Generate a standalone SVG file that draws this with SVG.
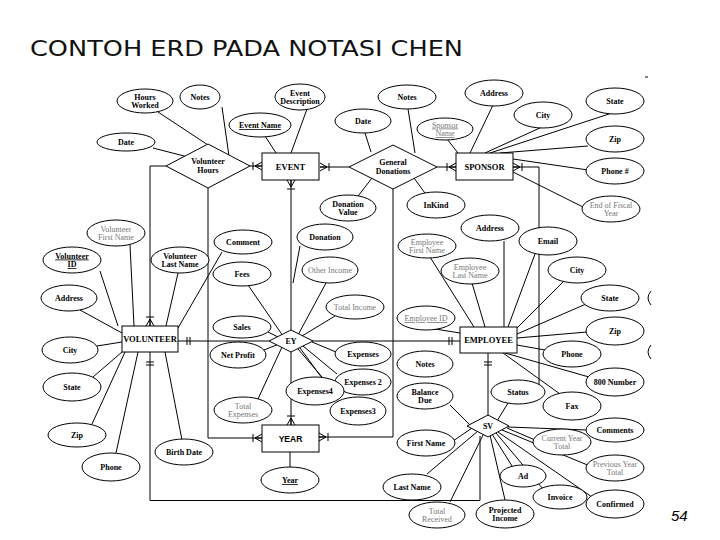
<svg xmlns="http://www.w3.org/2000/svg" xmlns:xlink="http://www.w3.org/1999/xlink" width="720" height="540" viewBox="0 0 720 540">
<defs>
<style>
ellipse,rect,polygon{fill:#fff;stroke:#000;stroke-width:1}
.c path,.c line{stroke:#000;stroke-width:1;fill:none}
.m{stroke:#000;stroke-width:1;fill:none}
text{font-family:"Liberation Serif","Times New Roman",serif;font-size:8px;font-weight:bold;text-anchor:middle;fill:#000}
text.g{fill:#777;font-weight:normal}
text.u{text-decoration:underline}
text.en{font-size:8.5px}
text.title{font-family:"DejaVu Sans","Liberation Sans",sans-serif;font-size:22px;font-weight:normal;text-anchor:start;fill:#111}
text.pg{font-family:"Liberation Sans",sans-serif;font-size:15px;font-weight:normal;font-style:italic;text-anchor:start}
</style>
<path id="cf" class="m" d="M-7,0 L0,-4 M-7,0 L0,4 M-7,0 L0,0 M-9,-4 V4"/>
</defs>
<rect x="0" y="0" width="720" height="540" style="fill:#fff;stroke:none"/>
<text class="title" x="30" y="56" textLength="433" lengthAdjust="spacingAndGlyphs">CONTOH ERD PADA NOTASI CHEN</text>
<text class="pg" x="671" y="521">54</text>
<path class="m" d="M645,77 H648 M651,291 Q645,298 651,305 M651,345 Q645,352 651,359"/>

<g id="connectors" class="c">
<!-- Volunteer Hours -->
<line x1="158" y1="112" x2="208" y2="145"/>
<line x1="222" y1="107" x2="229" y2="156"/>
<line x1="153" y1="148" x2="188" y2="157"/>
<line x1="250" y1="166" x2="262" y2="166"/>
<path d="M166,166 H150 V326"/>
<path d="M208,188 V438 H262"/>
<!-- General Donations -->
<line x1="320" y1="167" x2="349" y2="167"/>
<line x1="437" y1="167" x2="456" y2="167"/>
<line x1="365" y1="133" x2="371" y2="152"/>
<line x1="408" y1="109" x2="415" y2="153"/>
<line x1="372" y1="178" x2="355" y2="200"/>
<line x1="414" y1="178" x2="430" y2="200"/>
<path d="M393,189 V437 H319"/>
<!-- EVENT -->
<line x1="265" y1="136" x2="276" y2="153"/>
<line x1="307" y1="109" x2="291" y2="153"/>
<path d="M291,180 V330"/>
<line x1="300" y1="246" x2="293" y2="283"/>
<!-- SPONSOR -->
<line x1="447" y1="139" x2="458" y2="153"/>
<line x1="493" y1="105" x2="470" y2="153"/>
<line x1="542" y1="127" x2="485" y2="153"/>
<line x1="612" y1="113" x2="490" y2="153"/>
<line x1="588" y1="146" x2="500" y2="153"/>
<line x1="513" y1="159" x2="588" y2="170"/>
<line x1="513" y1="172" x2="585" y2="208"/>
<path d="M513,167 H539 V392"/>
<!-- VOLUNTEER -->
<line x1="130" y1="245" x2="134" y2="326"/>
<line x1="100" y1="271" x2="118" y2="326"/>
<line x1="178" y1="273" x2="166" y2="326"/>
<line x1="222" y1="252" x2="178" y2="328"/>
<line x1="80" y1="310" x2="122" y2="333"/>
<line x1="97" y1="346" x2="122" y2="342"/>
<line x1="93" y1="377" x2="122" y2="352"/>
<line x1="92" y1="424" x2="125" y2="352"/>
<line x1="116" y1="453" x2="138" y2="352"/>
<line x1="182" y1="440" x2="165" y2="352"/>
<path d="M150,352 V500.5 H480 V436"/>
<line x1="178" y1="341" x2="269" y2="341"/>
<!-- EMPLOYEE -->
<line x1="430" y1="257" x2="474" y2="327"/>
<line x1="472" y1="283" x2="485" y2="327"/>
<line x1="504" y1="241" x2="504" y2="327"/>
<line x1="535" y1="254" x2="508" y2="327"/>
<line x1="563" y1="282" x2="517" y2="328"/>
<line x1="586" y1="304" x2="517" y2="334"/>
<line x1="435" y1="329" x2="460" y2="333"/>
<line x1="517" y1="338" x2="587" y2="332"/>
<line x1="517" y1="345" x2="545" y2="350"/>
<line x1="505" y1="353" x2="589" y2="377"/>
<line x1="503" y1="353" x2="560" y2="394"/>
<line x1="488" y1="353" x2="488" y2="416"/>
<line x1="313" y1="341" x2="460" y2="341"/>
<!-- EY -->
<path d="M291,352 V425"/>
<line x1="248" y1="285" x2="283" y2="336"/>
<line x1="268" y1="332" x2="278" y2="337"/>
<line x1="264" y1="350" x2="279" y2="344"/>
<line x1="258" y1="399" x2="282" y2="347"/>
<line x1="326" y1="283" x2="298" y2="335"/>
<line x1="335" y1="316" x2="302" y2="336"/>
<line x1="336" y1="352" x2="312" y2="342"/>
<line x1="337" y1="374" x2="303" y2="346"/>
<line x1="322" y1="378" x2="300" y2="348"/>
<line x1="340" y1="398" x2="298" y2="349"/>
<!-- SV -->
<line x1="450" y1="405" x2="470" y2="425"/>
<line x1="508" y1="403" x2="497" y2="421"/>
<line x1="508" y1="427" x2="587" y2="430"/>
<line x1="507" y1="428" x2="535" y2="440"/>
<line x1="502" y1="430" x2="590" y2="466"/>
<line x1="498" y1="432" x2="592" y2="497"/>
<line x1="496" y1="433" x2="543" y2="489"/>
<line x1="492" y1="434" x2="512" y2="466"/>
<line x1="490" y1="435" x2="505" y2="500"/>
<line x1="484" y1="433" x2="450" y2="502"/>
<line x1="472" y1="428" x2="453" y2="441"/>
<line x1="478" y1="431" x2="427" y2="474"/>
<!-- YEAR -->
<line x1="290" y1="452" x2="290" y2="467"/>
<!-- cardinality markers -->
<use xlink:href="#cf" transform="translate(262,166)"/>
<use xlink:href="#cf" transform="translate(320,167) rotate(180)"/>
<use xlink:href="#cf" transform="translate(291,180) rotate(-90)"/>
<use xlink:href="#cf" transform="translate(456,167)"/>
<use xlink:href="#cf" transform="translate(513,167) rotate(180)"/>
<use xlink:href="#cf" transform="translate(150,326) rotate(90)"/>
<use xlink:href="#cf" transform="translate(262,438)"/>
<use xlink:href="#cf" transform="translate(319,437) rotate(180)"/>
<use xlink:href="#cf" transform="translate(291,425) rotate(90)"/>
<path d="M187,337 V345 M190,337 V345 M449,337 V345 M452,337 V345 M146,362 H154 M146,365 H154 M484,362 H492 M484,365 H492"/>
</g>

<g id="e-event"><rect x="262" y="153" width="57" height="27"/><text class="en" x="290.5" y="170">EVENT</text></g>
<g id="e-sponsor"><rect x="456" y="153" width="57" height="27"/><text class="en" x="484.5" y="170">SPONSOR</text></g>
<g id="e-volunteer"><rect x="122" y="326" width="56" height="26"/><text class="en" x="150" y="342">VOLUNTEER</text></g>
<g id="e-employee"><rect x="460" y="327" width="57" height="26"/><text class="en" x="488.5" y="343">EMPLOYEE</text></g>
<g id="e-year"><rect x="262" y="425" width="57" height="27"/><text class="en" x="290.5" y="442" style="font-family:'Liberation Sans',sans-serif">YEAR</text></g>

<g id="r-volunteer-hours"><polygon points="166,166 208,144 250,166 208,188"/><text x="208" y="164">Volunteer</text><text x="208" y="173">Hours</text></g>
<g id="r-general-donations"><polygon points="349,167 393,145 437,167 393,189"/><text x="393" y="165">General</text><text x="393" y="174">Donations</text></g>
<g id="r-ey"><polygon points="269,341 291,330 313,341 291,352"/><text x="291" y="344">EY</text></g>
<g id="r-sv"><polygon points="467,426 488,415 509,426 488,437"/><text x="488" y="429">SV</text></g>

<g id="a-hours-worked"><ellipse cx="145" cy="101" rx="28" ry="12"/><text x="145" y="99.5">Hours</text><text x="145" y="108">Worked</text></g>
<g id="a-notes1"><ellipse cx="200" cy="97" rx="20" ry="12"/><text x="200" y="100">Notes</text></g>
<g id="a-event-desc"><ellipse cx="300" cy="97" rx="25" ry="13"/><text x="300" y="95.5">Event</text><text x="300" y="104">Description</text></g>
<g id="a-event-name"><ellipse cx="260" cy="125" rx="31" ry="12"/><text class="u" x="260" y="128">Event Name</text></g>
<g id="a-date2"><ellipse cx="363" cy="121" rx="28" ry="12"/><text x="363" y="124">Date</text></g>
<g id="a-notes2"><ellipse cx="407" cy="97" rx="29" ry="12"/><text x="407" y="100">Notes</text></g>
<g id="a-sponsor-name"><ellipse cx="445" cy="129" rx="28" ry="11"/><text class="g u" x="445" y="127.5">Sponsor</text><text class="g u" x="445" y="136">Name</text></g>
<g id="a-address1"><ellipse cx="494" cy="93" rx="29" ry="13"/><text x="494" y="96">Address</text></g>
<g id="a-city1"><ellipse cx="543" cy="115" rx="29" ry="13"/><text x="543" y="118">City</text></g>
<g id="a-state1"><ellipse cx="615" cy="101" rx="29" ry="13"/><text x="615" y="104">State</text></g>
<g id="a-zip1"><ellipse cx="615" cy="139" rx="29" ry="13"/><text x="615" y="142">Zip</text></g>
<g id="a-phone1"><ellipse cx="615" cy="171" rx="29" ry="13"/><text x="615" y="174">Phone #</text></g>
<g id="a-date1"><ellipse cx="126" cy="142" rx="29" ry="9"/><text x="126" y="145">Date</text></g>
<g id="a-fiscal-year"><ellipse cx="611" cy="209" rx="29" ry="13"/><text class="g" x="611" y="207.5">End of Fiscal</text><text class="g" x="611" y="216">Year</text></g>
<g id="a-donation-value"><ellipse cx="348" cy="208" rx="28" ry="13"/><text x="348" y="206.5">Donation</text><text x="348" y="215">Value</text></g>
<g id="a-inkind"><ellipse cx="436" cy="205" rx="29" ry="13"/><text x="436" y="208">InKind</text></g>
<g id="a-vol-first"><ellipse cx="116" cy="233" rx="29" ry="13"/><text class="g" x="116" y="231.5">Volunteer</text><text class="g" x="116" y="240">First Name</text></g>
<g id="a-comment"><ellipse cx="243" cy="242" rx="29" ry="12"/><text x="243" y="245">Comment</text></g>
<g id="a-donation"><ellipse cx="325" cy="237" rx="28" ry="13"/><text x="325" y="240">Donation</text></g>
<g id="a-address2"><ellipse cx="490" cy="228" rx="29" ry="13"/><text x="490" y="231">Address</text></g>
<g id="a-email"><ellipse cx="548" cy="241" rx="29" ry="14"/><text x="548" y="244">Email</text></g>
<g id="a-emp-first"><ellipse cx="427" cy="246" rx="29" ry="12"/><text class="g" x="427" y="244.5">Employee</text><text class="g" x="427" y="253">First Name</text></g>
<g id="a-vol-id"><ellipse cx="72" cy="260" rx="29" ry="13"/><text class="u" x="72" y="258.5">Volunteer</text><text class="u" x="72" y="267">ID</text></g>
<g id="a-vol-last"><ellipse cx="180" cy="260" rx="29" ry="13"/><text x="180" y="258.5">Volunteer</text><text x="180" y="267">Last Name</text></g>
<g id="a-fees"><ellipse cx="242" cy="274" rx="29" ry="12"/><text x="242" y="277">Fees</text></g>
<g id="a-other-income"><ellipse cx="330" cy="270" rx="28" ry="13"/><text class="g" x="330" y="273">Other Income</text></g>
<g id="a-emp-last"><ellipse cx="470" cy="271" rx="29" ry="13"/><text class="g" x="470" y="269.5">Employee</text><text class="g" x="470" y="278">Last Name</text></g>
<g id="a-city2"><ellipse cx="577" cy="270" rx="29" ry="13"/><text x="577" y="273">City</text></g>
<g id="a-address3"><ellipse cx="69" cy="298" rx="28" ry="13"/><text x="69" y="301">Address</text></g>
<g id="a-state2"><ellipse cx="610" cy="298" rx="29" ry="13"/><text x="610" y="301">State</text></g>
<g id="a-total-income"><ellipse cx="355" cy="307" rx="29" ry="12"/><text class="g" x="355" y="310">Total Income</text></g>
<g id="a-emp-id"><ellipse cx="426" cy="318" rx="29" ry="12"/><text class="g u" x="426" y="321">Employee ID</text></g>
<g id="a-sales"><ellipse cx="242" cy="327" rx="29" ry="11"/><text x="242" y="330">Sales</text></g>
<g id="a-zip2"><ellipse cx="615" cy="331" rx="29" ry="14"/><text x="615" y="334">Zip</text></g>
<g id="a-city3"><ellipse cx="70" cy="350" rx="28" ry="13"/><text x="70" y="353">City</text></g>
<g id="a-net-profit"><ellipse cx="238" cy="355" rx="28" ry="13"/><text x="238" y="358">Net Profit</text></g>
<g id="a-expenses"><ellipse cx="363" cy="354" rx="28" ry="12"/><text x="363" y="357">Expenses</text></g>
<g id="a-phone2"><ellipse cx="572" cy="354" rx="29" ry="13"/><text x="572" y="357">Phone</text></g>
<g id="a-notes3"><ellipse cx="425" cy="364" rx="28" ry="13"/><text x="425" y="367">Notes</text></g>
<g id="a-state3"><ellipse cx="72" cy="387" rx="29" ry="14"/><text x="72" y="390">State</text></g>
<g id="a-expenses2"><ellipse cx="363" cy="382" rx="28" ry="13"/><text x="363" y="385">Expenses 2</text></g>
<g id="a-expenses4"><ellipse cx="315" cy="391" rx="29" ry="14"/><text x="315" y="394">Expenses4</text></g>
<g id="a-balance-due"><ellipse cx="425" cy="396" rx="28" ry="13"/><text x="425" y="394.5">Balance</text><text x="425" y="403">Due</text></g>
<g id="a-800-number"><ellipse cx="615" cy="382" rx="29" ry="14"/><text x="615" y="385">800 Number</text></g>
<g id="a-status"><ellipse cx="518" cy="392" rx="27" ry="12"/><text x="518" y="395">Status</text></g>
<g id="a-expenses3"><ellipse cx="358" cy="411" rx="28" ry="14"/><text x="358" y="414">Expenses3</text></g>
<g id="a-total-expenses"><ellipse cx="243" cy="410" rx="29" ry="13"/><text class="g" x="243" y="408.5">Total</text><text class="g" x="243" y="417">Expenses</text></g>
<g id="a-fax"><ellipse cx="572" cy="406" rx="29" ry="14"/><text x="572" y="409">Fax</text></g>
<g id="a-zip3"><ellipse cx="77" cy="435" rx="29" ry="12"/><text x="77" y="438">Zip</text></g>
<g id="a-comments"><ellipse cx="615" cy="430" rx="29" ry="12"/><text x="615" y="433">Comments</text></g>
<g id="a-current-year"><ellipse cx="562" cy="442" rx="29" ry="13"/><text class="g" x="562" y="440.5">Current Year</text><text class="g" x="562" y="449">Total</text></g>
<g id="a-birth-date"><ellipse cx="184" cy="452" rx="29" ry="13"/><text x="184" y="455">Birth Date</text></g>
<g id="a-first-name"><ellipse cx="426" cy="443" rx="29" ry="13"/><text x="426" y="446">First Name</text></g>
<g id="a-phone3"><ellipse cx="111" cy="467" rx="29" ry="14"/><text x="111" y="470">Phone</text></g>
<g id="a-previous-year"><ellipse cx="615" cy="468" rx="29" ry="13"/><text class="g" x="615" y="466.5">Previous Year</text><text class="g" x="615" y="475">Total</text></g>
<g id="a-ad"><ellipse cx="523" cy="476" rx="23" ry="11"/><text x="523" y="479">Ad</text></g>
<g id="a-year"><ellipse cx="290" cy="480" rx="29" ry="13"/><text class="u" x="290" y="483">Year</text></g>
<g id="a-last-name"><ellipse cx="412" cy="487" rx="29" ry="13"/><text x="412" y="490">Last Name</text></g>
<g id="a-invoice"><ellipse cx="560" cy="497" rx="27" ry="12"/><text x="560" y="500">Invoice</text></g>
<g id="a-confirmed"><ellipse cx="615" cy="504" rx="29" ry="14"/><text x="615" y="507">Confirmed</text></g>
<g id="a-projected-income"><ellipse cx="505" cy="514" rx="29" ry="14"/><text x="505" y="512.5">Projected</text><text x="505" y="521">Income</text></g>
<g id="a-total-received"><ellipse cx="437" cy="515" rx="28" ry="13"/><text class="g" x="437" y="513.5">Total</text><text class="g" x="437" y="522">Received</text></g>
</svg>
